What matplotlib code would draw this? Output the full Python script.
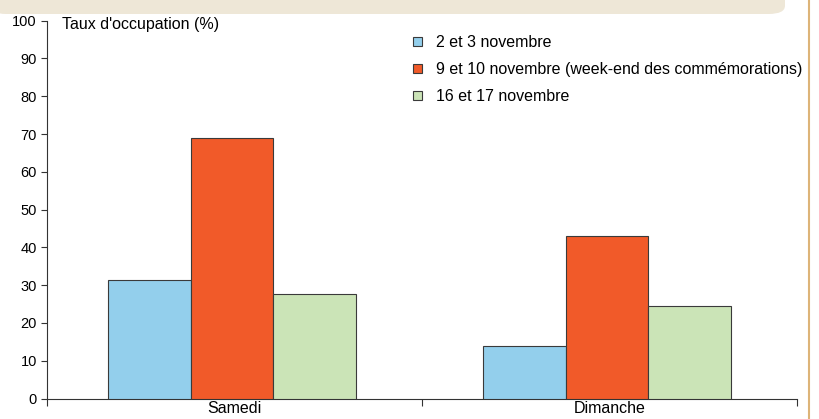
import matplotlib
matplotlib.use("Agg")
import matplotlib.pyplot as plt
from matplotlib.patches import FancyBboxPatch
import numpy as np

plt.rcParams['font.family'] = ['Liberation Sans', 'DejaVu Sans']

categories = ["Samedi", "Dimanche"]
series_labels = ["2 et 3 novembre",
                 "9 et 10 novembre (week-end des commémorations)",
                 "16 et 17 novembre"]
values = {
    "2 et 3 novembre": [31.3, 14.0],
    "9 et 10 novembre (week-end des commémorations)": [69.0, 43.0],
    "16 et 17 novembre": [27.7, 24.4],
}
colors = ["#93CFEC", "#F15A29", "#CBE4B7"]
y_ticks = [0, 10, 20, 30, 40, 50, 60, 70, 80, 90, 100]

W, H = 819, 419
fig = plt.figure(figsize=(W / 100, H / 100), dpi=100)

# beige header strip and orange side line
strip = FancyBboxPatch((-10 / W, 1 - 14 / H), 795 / W, 30 / H,
                       boxstyle="round,pad=0,rounding_size=0.02",
                       transform=fig.transFigure, facecolor="#EEE7D7",
                       edgecolor="none", zorder=-5)
fig.patches.append(strip)
fig.add_artist(plt.Line2D([808.5 / W, 808.5 / W], [0, 1], transform=fig.transFigure,
                          color="#DDB478", lw=1.5))

left, right = 46.5 / W, 797 / W
bottom, top = 1 - 398.5 / H, 1 - 20.7 / H
ax = fig.add_axes([left, bottom, right - left, top - bottom])
ax.patch.set_alpha(0)

x = np.arange(len(categories))
bw = 0.2205
for i, lab in enumerate(series_labels):
    ax.bar(x + (i - 1) * bw - 0.006, values[lab], width=bw, color=colors[i],
           edgecolor="#3A3A3A", linewidth=0.8, label=lab, zorder=3)

ax.set_xlim(-0.5, 1.5)
ax.set_ylim(0, 100)
ax.set_yticks(y_ticks)
ax.set_yticklabels([str(t) for t in y_ticks], fontsize=10.5)
ax.set_xticks([-0.5, 0.5, 1.5])
ax.set_xticklabels([])
ax.set_xticks(x, minor=True)
ax.set_xticklabels(categories, minor=True, fontsize=11.5)
ax.tick_params(axis='x', which='minor', length=0, pad=2)
ax.tick_params(axis='x', which='major', length=5, direction='out', width=0.8, color="#333333")
ax.tick_params(axis='y', length=4, direction='out', width=0.8, color="#333333", pad=3)

for s in ["top", "right"]:
    ax.spines[s].set_visible(False)
for s in ["left", "bottom"]:
    ax.spines[s].set_color("#333333")
    ax.spines[s].set_linewidth(0.8)

fig.text(62 / W, 1 - 28.5 / H, "Taux d'occupation (%)",
         fontsize=11.5, va="baseline", ha="left")

leg = ax.legend(loc="upper left", bbox_to_anchor=(413 / W, 1 - 35 / H),
                bbox_transform=fig.transFigure,
                frameon=False, fontsize=11.5, handlelength=0.55, handleheight=0.55,
                handletextpad=0.9, labelspacing=0.76, borderaxespad=0,
                borderpad=0)

fig.savefig("out.png", dpi=100)
